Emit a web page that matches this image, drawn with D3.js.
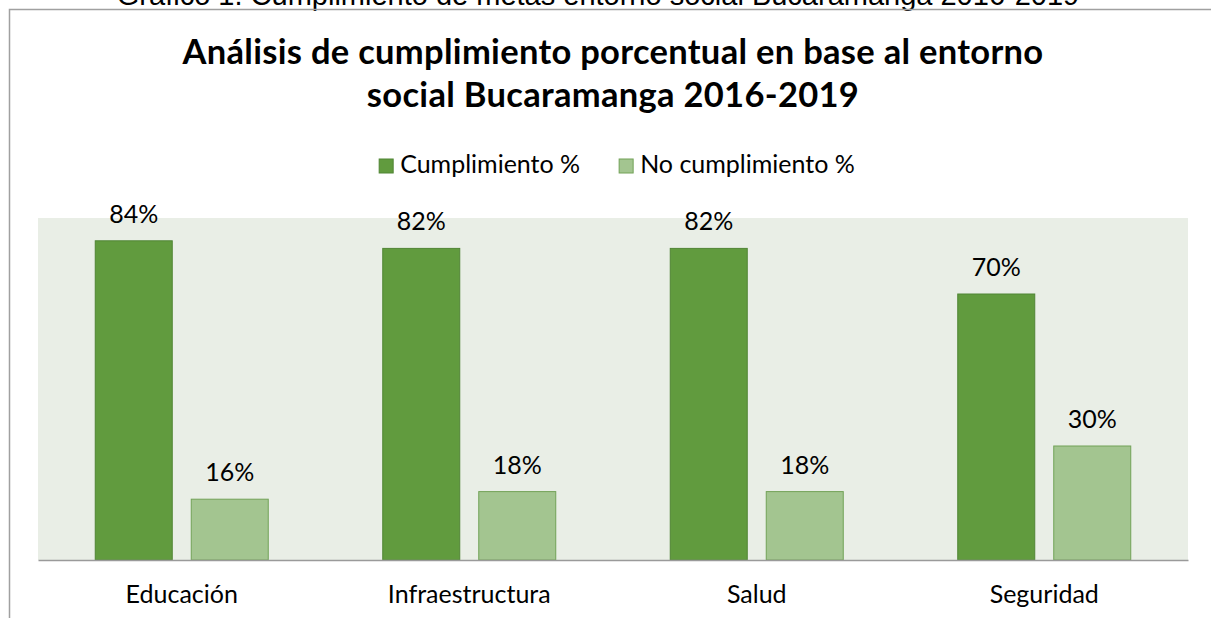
<!DOCTYPE html>
<html>
<head>
<meta charset="utf-8">
<script src="https://cdn.jsdelivr.net/npm/d3@7"></script>
<style>
  body { margin: 0; background: #fff; }
  svg { display: block; }
</style>
</head>
<body>
<div id="vis"></div>
<script>
// data
var caption = "Gráfico 1. Cumplimiento de metas entorno social Bucaramanga 2016-2019";
var titleLines = ["Análisis de cumplimiento porcentual en base al entorno", "social Bucaramanga 2016-2019"];
var categories = ["Educación", "Infraestructura", "Salud", "Seguridad"];
var seriesNames = ["Cumplimiento %", "No cumplimiento %"];
var cumplimiento = [0.84, 0.82, 0.82, 0.70];
var noCumplimiento = [0.16, 0.18, 0.18, 0.30];

var width = 1211, height = 618;
var FONT = "Lato, 'Open Sans', sans-serif";
var colors = ["#619b3e", "#a3c590"];
var strokes = ["#508535", "#72a257"];

var plot = { left: 38, right: 1188, top: 218, bottom: 560 };

var svg = d3.select("#vis").append("svg")
    .attr("width", width)
    .attr("height", height);

// caption above the chart (cut at the top of the picture)
svg.append("text")
    .attr("x", 598).attr("y", 5)
    .attr("text-anchor", "middle")
    .style("font-family", "'Liberation Sans', Arial, sans-serif")
    .style("font-size", "29px")
    .text(caption);

// chart frame
svg.append("path")
    .attr("d", "M9.5," + height + "V9.5H" + width)
    .attr("fill", "none")
    .attr("stroke", "#a0a0a0")
    .attr("stroke-width", 1.5);

// title
svg.append("g").selectAll("text")
    .data(titleLines)
    .enter().append("text")
    .attr("x", 613)
    .attr("y", function(d, i) { return 64 + i * 43; })
    .attr("text-anchor", "middle")
    .style("font-family", FONT)
    .style("font-weight", "bold")
    .style("font-size", "34.5px")
    .style("letter-spacing", "0.3px")
    .text(function(d) { return d; });

// scales
var x0 = d3.scaleBand()
    .domain(categories)
    .range([plot.left, plot.right]);

var x1 = d3.scaleBand()
    .domain(seriesNames)
    .range([(x0.bandwidth() - 173) / 2, (x0.bandwidth() + 173) / 2])
    .paddingInner(19 / 96);

var y = d3.scaleLinear()
    .domain([0, 0.9])
    .range([plot.bottom, plot.top]);

// plot background
svg.append("rect")
    .attr("x", plot.left).attr("y", plot.top)
    .attr("width", plot.right - plot.left)
    .attr("height", plot.bottom - plot.top)
    .attr("fill", "#e9eee6");

var rows = categories.map(function(c, i) {
    return { cat: c, values: [cumplimiento[i], noCumplimiento[i]] };
});

var groups = svg.append("g").selectAll("g")
    .data(rows)
    .enter().append("g")
    .attr("transform", function(d) { return "translate(" + x0(d.cat) + ",0)"; });

var bars = groups.selectAll("g")
    .data(function(d) {
        return d.values.map(function(v, j) { return { s: seriesNames[j], j: j, v: v }; });
    })
    .enter().append("g");

bars.append("rect")
    .attr("x", function(d) { return x1(d.s); })
    .attr("y", function(d) { return y(d.v); })
    .attr("width", x1.bandwidth())
    .attr("height", function(d) { return y(0) - y(d.v); })
    .attr("fill", function(d) { return colors[d.j]; })
    .attr("stroke", function(d) { return strokes[d.j]; })
    .attr("stroke-width", 1);

bars.append("text")
    .attr("x", function(d) { return x1(d.s) + x1.bandwidth() / 2; })
    .attr("y", function(d) { return y(d.v) - 18; })
    .attr("text-anchor", "middle")
    .style("font-family", FONT)
    .style("font-size", "25px")
    .text(function(d) { return d3.format(".0%")(d.v); });

// baseline + category labels
var xAxis = svg.append("g")
    .attr("transform", "translate(0," + plot.bottom + ")")
    .call(d3.axisBottom(x0).tickSize(0).tickPadding(43));
xAxis.select(".domain").attr("stroke", "#9a9a9a").attr("stroke-width", 1.5);
xAxis.selectAll("text")
    .attr("dy", 0)
    .style("font-family", FONT)
    .style("font-size", "25px")
    .attr("fill", "#000");

// legend
var legend = svg.append("g");
var items = legend.selectAll("g")
    .data(seriesNames)
    .enter().append("g");
items.append("rect")
    .attr("width", 14).attr("height", 14)
    .attr("y", 159)
    .attr("fill", function(d, i) { return colors[i]; })
    .attr("stroke", function(d, i) { return strokes[i]; });
items.append("text")
    .attr("x", 21).attr("y", 173)
    .style("font-family", FONT)
    .style("font-size", "25px")
    .text(function(d) { return d; });

var xpos = 0;
items.each(function() {
    var w = d3.select(this).select("text").node().getComputedTextLength();
    d3.select(this).attr("transform", "translate(" + xpos + ",0)");
    xpos += 21 + w + 39;
});
var legendW = xpos - 39;
legend.attr("transform", "translate(" + (617 - legendW / 2) + ",0)");
</script>
</body>
</html>
